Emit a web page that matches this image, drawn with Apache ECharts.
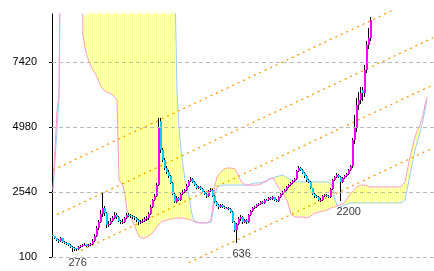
<!DOCTYPE html>
<html><head><meta charset="utf-8">
<script src="https://cdn.jsdelivr.net/npm/echarts@6/dist/echarts.min.js"></script>
<style>html,body{margin:0;padding:0;background:#fff}#c{width:434px;height:271px}</style>
</head><body><div id="c"></div>
<script>
const yTicks = [100, 2540, 4980, 7420];
const yMin = 100, yMax = 9222;
const nSlots = 191;

const opens = [
930,880,800,730,690,800,670,630,610,560,
490,440,430,410,470,500,540,570,520,550,
600,700,890,1180,1400,1700,1950,1750,1300,1340,
1450,1560,1690,1600,1450,1400,1420,1560,1690,1670,
1640,1600,1560,1490,1400,1420,1450,1530,1560,1710,
1980,2240,2390,2800,5200,4100,3750,3440,3300,3140,
2880,2470,2170,2330,2240,2470,2540,2620,2770,2950,
3040,2920,2800,2690,2740,2650,2540,2470,2390,2580,
2620,2390,2170,2050,1980,2050,1980,1930,1940,1900,
1790,1410,1110,1340,1530,1600,1410,1490,1410,1680,
1830,1940,1980,2050,2090,2170,2130,2250,2240,2320,
2280,2350,2240,2200,2350,2470,2540,2620,2730,2800,
2880,2950,3030,3330,3440,3370,3250,3140,2990,2920,
2690,2470,2390,2350,2240,2250,2390,2430,2390,2350,
2650,2990,3100,3180,3100,2920,3070,3140,3220,3370,
3520,4490,4940,5810,5990,6370,6260,7120,8060,8320];
const closes = [
890,810,740,700,810,660,630,620,550,480,
440,430,400,470,510,550,560,520,550,590,
700,890,1190,1410,1710,1940,1750,1300,1340,1450,
1560,1680,1600,1450,1410,1420,1560,1680,1670,1640,
1600,1560,1490,1410,1420,1450,1530,1560,1710,1980,
2240,2390,2800,4980,4120,3740,3440,3290,3140,2880,
2470,2170,2320,2240,2470,2540,2620,2770,2950,3030,
2920,2800,2690,2730,2650,2540,2470,2390,2580,2620,
2390,2170,2050,1980,2050,1980,1940,1940,1900,1790,
1410,1110,1340,1530,1600,1410,1490,1410,1680,1830,
1940,1980,2050,2090,2170,2130,2240,2240,2320,2280,
2350,2240,2200,2350,2470,2540,2620,2730,2800,2880,
2950,3030,3330,3440,3370,3250,3140,2990,2920,2690,
2470,2390,2350,2240,2250,2390,2430,2390,2350,2650,
2990,3100,3180,3100,2920,3070,3140,3220,3370,3520,
4490,4940,5810,5990,6260,6260,7120,8060,8320,9000];
const highs = [
960,900,830,760,850,820,690,670,640,580,
510,480,450,500,550,590,620,590,600,640,
760,960,1280,1500,1850,2500,2000,1780,1450,1560,
1650,1790,1750,1640,1500,1520,1620,1760,1760,1720,
1690,1650,1600,1530,1500,1520,1600,1650,1800,2070,
2290,2460,2870,5320,5320,4180,3800,3500,3350,3170,
2920,2500,2390,2370,2510,2600,2670,2830,3000,3110,
3080,2950,2830,2780,2770,2690,2580,2510,2630,2680,
2650,2420,2200,2090,2100,2080,2020,1990,1970,1930,
1820,1450,1380,1590,1660,1640,1530,1510,1710,1870,
1980,2030,2090,2140,2210,2200,2280,2290,2360,2360,
2380,2370,2280,2380,2510,2580,2660,2760,2840,2920,
3000,3080,3380,3500,3480,3400,3280,3160,3030,2940,
2700,2510,2440,2390,2300,2430,2480,2470,2420,2690,
3020,3150,3240,3230,3150,3110,3190,3260,3400,3560,
4550,5420,6050,6300,6500,6500,7300,8200,8700,9110];
const lows = [
800,760,690,640,660,620,580,560,500,430,
276,330,320,380,440,470,500,480,490,520,
560,660,850,1120,1360,1620,1650,1200,1220,1300,
1400,1520,1540,1400,1330,1340,1380,1520,1590,1580,
1540,1500,1420,1320,1340,1370,1400,1470,1500,1660,
1950,2190,2340,2750,4000,3670,3370,3230,3070,2830,
2420,2110,2130,2190,2210,2430,2510,2590,2730,2910,
2880,2750,2640,2650,2600,2490,2420,2330,2370,2540,
2350,2120,2000,1920,1940,1940,1890,1890,1860,1740,
1360,1050,636,1290,1460,1350,1360,1350,1380,1640,
1790,1910,1950,2010,2050,2090,2100,2190,2210,2240,
2250,2190,2170,2160,2320,2440,2510,2590,2690,2770,
2850,2920,2990,3290,3310,3200,3080,2930,2860,2640,
2420,2330,2300,2190,2170,2220,2350,2340,2300,2320,
2620,2940,3050,3050,2200,2880,3030,3110,3180,3330,
3450,4350,4800,5600,5850,5950,6100,7000,7900,8200];

// leading spans (values above the axis max run off the top of the plot)
const spanPink = [
2620,4120,5620,6180,
14000,14000,14000,14000,14000,14000,14000,14000,14000,14000,14000,
8430,7950,7680,7420,7270,7120,7010,6860,6670,6520,6410,6330,6290,6260,6220,6180,6140,5990,
2990,2880,2770,2430,1860,1680,1600,1410,1230,1040,890,810,810,810,850,890,960,
1040,1110,1230,1340,1410,1450,1490,1490,1530,1530,
1560,1560,1560,1560,1560,1560,1530,1530,1490,1490,1450,1410,1410,1380,1380,1380,1380,1380,1410,1490,
2050,2800,3100,3220,3290,3370,3440,3440,3440,3440,3440,
3400,3370,3100,2950,2880,
2800,2800,2800,2800,2800,2800,2800,2800,
2840,2880,2920,2990,3030,3070,3070,2950,
2800,2690,2580,2500,2430,2240,1980,1710,1640,
1600,1600,1600,1600,1600,1600,1560,1560,1640,1710,1750,1790,1790,1790,1830,1860,1860,1900,1940,1980,1980,2010,2050,2050,2090,2170,2280,2390,2500,
2580,2650,2730,2770,2800,2800,2800,2770,2730,2730,
2730,2730,2730,2730,2730,2730,2730,2730,2730,2730,2730,2730,2730,2730,2730,
2770,2920,3290,3670,4000,4300,4600,4830,4980,5170,5430,5810,6110];
const spanBlue = [
2620,3740,4870,6000,
14000,14000,14000,14000,14000,14000,14000,14000,14000,14000,
14000,14000,14000,14000,14000,14000,14000,14000,14000,14000,
14000,14000,14000,14000,14000,14000,14000,14000,14000,14000,
14000,14000,14000,14000,14000,14000,14000,14000,14000,14000,
14000,14000,14000,14000,14000,14000,14000,14000,14000,14000,
14000,14000,14000,14000,14000,14000,14000,14000,
6370,4940,4120,3550,2990,2690,2430,1860,1560,1450,1410,
1380,1380,1380,1380,1380,1380,
1410,1790,2430,2690,2770,
2800,2800,2800,2800,2800,2800,2800,2800,2800,2800,2800,2800,2800,2800,2800,
2840,2840,2880,2880,2880,2920,2920,2950,2950,
2990,3030,3070,3100,3100,3140,3180,3180,
3140,3070,3030,2990,2950,
2920,2920,2920,2920,2920,2920,2920,2920,2920,2920,2920,2920,2920,2920,2920,2920,2920,
2880,2840,2620,2240,2050,2010,1980,2010,2050,2090,
2130,2130,2130,2130,2130,2130,2130,2130,2130,2130,2130,2130,2130,2130,
2130,2130,2130,2130,2130,2130,2130,2130,2130,2130,2130,2130,2130,2130,
2240,2620,2990,3370,3740,4120,4380,4640,4940,5240,5620,5990];

// dotted channel lines: [startIndex, startValue], [endIndex, endValue]
const trendLines = [
  [[0, 3366], [171, 9402]],
  [[2, 1692], [190, 8328]],
  [[14, 348], [190, 6561]],
  [[68, -110], [190, 4197]]
];
const lowMarks = [10, 92, 144];

const FONT = '"Liberation Sans", Arial, sans-serif';
const cats = Array.from({length: nSlots}, (_, i) => String(i));
const candleData = closes.map((c, i) => [i, opens[i], c, lows[i], highs[i]]);
const cloudData = spanPink.map((p, i) => [i, Math.min(p, spanBlue[i]), Math.max(p, spanBlue[i])]);

function renderCloud(params, api) {
  const i = api.value(0);
  const cs = params.coordSys;
  const pHi = api.coord([i, api.value(2)]);
  const pLo = api.coord([i, api.value(1)]);
  const top = Math.round(Math.max(pHi[1], cs.y));
  const bot = Math.round(Math.min(pLo[1], cs.y + cs.height));
  if (bot <= top) return null;
  const x = Math.round(pLo[0]) - 1;
  return {type: 'rect', shape: {x: x, y: top, width: 1, height: bot - top},
          style: {fill: '#ffff99'}};
}
function renderCandle(params, api) {
  const i = api.value(0), o = api.value(1), c = api.value(2), l = api.value(3), h = api.value(4);
  const pO = api.coord([i, o]), pC = api.coord([i, c]);
  const pL = api.coord([i, l]), pH = api.coord([i, h]);
  const cx = Math.round(pO[0]);
  const yH = Math.round(pH[1]), yL = Math.round(pL[1]);
  const yT = Math.round(Math.min(pO[1], pC[1])), yB = Math.round(Math.max(pO[1], pC[1]));
  return {type: 'group', children: [
    {type: 'rect', shape: {x: cx - 1, y: yH, width: 1, height: Math.max(1, yL - yH)}, style: {fill: '#000'}},
    {type: 'rect', shape: {x: cx - 1, y: yT, width: 2, height: Math.max(1, yB - yT)},
     style: {fill: c >= o ? '#ff00ff' : '#00ccff'}}
  ]};
}

const series = [
  {type: 'custom', name: 'cloud', z: 1, renderItem: renderCloud, data: cloudData,
   encode: {x: 0, y: [1, 2]}, silent: true},
  {type: 'line', name: 'spanBlue', z: 2, data: spanBlue, showSymbol: false, symbol: 'none',
   lineStyle: {color: '#99ccff', width: 1}, silent: true,
   markLine: {silent: true, symbol: 'none', label: {show: false},
     lineStyle: {color: '#bbbbbb', type: [4, 3], width: 1},
     data: yTicks.map(v => ({yAxis: v}))}},
  {type: 'line', name: 'spanPink', z: 2, data: spanPink, showSymbol: false, symbol: 'none',
   lineStyle: {color: '#ff99cc', width: 1}, silent: true}
];
trendLines.forEach(tl => series.push({
  type: 'line', z: 3, data: tl, showSymbol: false, symbol: 'none', clip: false, silent: true,
  lineStyle: {color: '#ff9900', width: 1.3, type: [2, 4]}
}));
series.push({type: 'custom', name: 'candles', z: 4, renderItem: renderCandle, data: candleData,
  encode: {x: 0, y: [1, 2, 3, 4]}, silent: true});
series.push({type: 'scatter', z: 5, clip: false, silent: true, symbolSize: 1,
  itemStyle: {color: 'rgba(0,0,0,0)'},
  data: lowMarks.map(i => [i, lows[i]]),
  label: {show: true, position: [-4, 6], align: 'left', verticalAlign: 'top',
    formatter: p => String(p.value[1]), color: '#000', fontSize: 11, fontFamily: FONT}});

const chart = echarts.init(document.getElementById('c'), null, {renderer: 'canvas'});
chart.setOption({
  animation: false,
  backgroundColor: '#fff',
  grid: {left: 52, right: 0, top: 14, bottom: 14, containLabel: false},
  xAxis: {type: 'category', data: cats, boundaryGap: true, show: false},
  yAxis: {type: 'value', min: yMin, max: yMax, interval: 2440,
    axisLine: {show: true, lineStyle: {color: '#000', width: 1}},
    axisTick: {show: true, length: 3, lineStyle: {color: '#000'}, customValues: yTicks},
    axisLabel: {color: '#000', fontSize: 11, fontFamily: FONT, margin: 15,
      customValues: yTicks, formatter: v => String(v)},
    splitLine: {show: false}},
  series: series
});
</script></body></html>
